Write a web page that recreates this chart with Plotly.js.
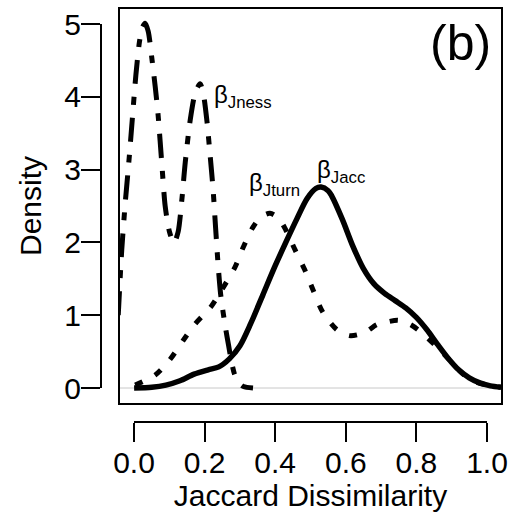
<!DOCTYPE html>
<html>
<head>
<meta charset="utf-8">
<script src="https://cdn.plot.ly/plotly-3.0.1.min.js"></script>
<style>html,body{margin:0;padding:0;background:#fff;}#chart{width:517px;height:525px;}</style>
</head>
<body>
<div id="chart"></div>
<script>
// βJacc (solid)
const jaccX = [0.00, 0.05, 0.09, 0.13, 0.17, 0.21, 0.24, 0.27, 0.30, 0.33, 0.365, 0.40, 0.43, 0.462, 0.49, 0.515, 0.53, 0.55, 0.56, 0.59, 0.62, 0.65, 0.68, 0.71, 0.74, 0.77, 0.80, 0.83, 0.86, 0.89, 0.92, 0.95, 0.98, 1.01, 1.04];
const jaccY = [0.00, 0.01, 0.04, 0.10, 0.19, 0.25, 0.29, 0.40, 0.58, 0.88, 1.28, 1.68, 2.00, 2.33, 2.60, 2.74, 2.76, 2.71, 2.64, 2.32, 1.95, 1.64, 1.43, 1.30, 1.20, 1.10, 0.97, 0.80, 0.60, 0.41, 0.25, 0.14, 0.07, 0.03, 0.01];
// βJturn (dashed)
const turnX = [0.003, 0.06, 0.10, 0.14, 0.173, 0.20, 0.22, 0.25, 0.286, 0.31, 0.337, 0.36, 0.385, 0.41, 0.43, 0.456, 0.484, 0.507, 0.535, 0.575, 0.61, 0.632, 0.66, 0.688, 0.72, 0.748, 0.78, 0.805, 0.853, 0.895, 0.93, 0.96, 1.00, 1.04];
const turnY = [0.04, 0.18, 0.38, 0.66, 0.88, 1.02, 1.13, 1.36, 1.66, 1.94, 2.21, 2.35, 2.40, 2.33, 2.17, 1.90, 1.62, 1.35, 1.04, 0.80, 0.72, 0.73, 0.78, 0.87, 0.91, 0.93, 0.88, 0.80, 0.59, 0.38, 0.20, 0.10, 0.04, 0.01];
// βJness (dash-dot)
const nessX = [-0.045, -0.035, -0.025, -0.015, -0.005, 0.005, 0.015, 0.023, 0.031, 0.04, 0.051, 0.06, 0.068, 0.079, 0.088, 0.10, 0.113, 0.125, 0.136, 0.145, 0.159, 0.173, 0.187, 0.197, 0.207, 0.215, 0.224, 0.231, 0.238, 0.245, 0.252, 0.26, 0.268, 0.276, 0.284, 0.295, 0.31, 0.337];
const nessY = [1.00, 1.90, 2.55, 3.10, 3.70, 4.30, 4.75, 4.95, 5.01, 4.90, 4.50, 4.13, 3.75, 3.05, 2.50, 2.15, 1.99, 2.15, 2.62, 3.10, 3.68, 4.05, 4.18, 4.02, 3.64, 3.22, 2.72, 2.20, 1.70, 1.30, 1.05, 0.80, 0.58, 0.36, 0.20, 0.08, 0.02, 0.00];

const xTickVals = [0, 0.2, 0.4, 0.6, 0.8, 1.0];
const xTickText = ['0.0', '0.2', '0.4', '0.6', '0.8', '1.0'];
const yTickVals = [0, 1, 2, 3, 4, 5];
const yTickText = ['0', '1', '2', '3', '4', '5'];
const seriesLabels = ['β<sub>Jness</sub>', 'β<sub>Jturn</sub>', 'β<sub>Jacc</sub>'];
const labelPos = [[0.222, 4.0], [0.32, 2.79], [0.513, 2.98]];

const FONT = 'Liberation Sans, Arial, Helvetica, sans-serif';

const traces = [
  {x: [-0.04, 1.04], y: [0, 0], mode: 'lines', line: {color: '#c8c8c8', width: 1}, hoverinfo: 'skip', showlegend: false},
  {x: nessX, y: nessY, mode: 'lines', line: {color: '#000', width: 5, shape: 'spline', smoothing: 0.7, dash: '24px,13px,8px,13px'}, showlegend: false},
  {x: turnX, y: turnY, mode: 'lines', line: {color: '#000', width: 5, shape: 'spline', smoothing: 0.8, dash: '8px,14px'}, showlegend: false},
  {x: jaccX, y: jaccY, mode: 'lines', line: {color: '#000', width: 5.5, shape: 'spline', smoothing: 0.8}, showlegend: false},
  {x: [0, 1], y: [0, 5], xaxis: 'x2', yaxis: 'y2', mode: 'markers', marker: {opacity: 0}, hoverinfo: 'skip', showlegend: false}
];

const W = 400, H = 413;
const layout = {
  width: 517, height: 525,
  margin: {l: 101, r: 16, t: 9, b: 103, pad: 0},
  paper_bgcolor: '#fff', plot_bgcolor: 'rgba(0,0,0,0)',
  font: {family: FONT, color: '#000', size: 30},
  showlegend: false,
  xaxis: {domain: [19 / W, 1], range: [-0.04, 1.04], showline: true, mirror: true, linecolor: '#000', linewidth: 2,
          showgrid: false, zeroline: false, showticklabels: false, ticks: '', fixedrange: true},
  yaxis: {domain: [19 / H, 1], range: [-0.206, 5.206], showline: true, mirror: true, linecolor: '#000', linewidth: 2,
          showgrid: false, zeroline: false, showticklabels: false, ticks: '', fixedrange: true},
  xaxis2: {domain: [33 / W, 386 / W], range: [0, 1], anchor: 'free', position: 0, showline: true, linecolor: '#000', linewidth: 2,
           ticks: 'outside', ticklen: 19, tickwidth: 2, tickcolor: '#000', tickvals: xTickVals, ticktext: xTickText,
           ticklabelstandoff: -5,
           tickfont: {size: 30, family: FONT, color: '#000'}, showgrid: false, zeroline: false,
           title: {text: 'Jaccard Dissimilarity', font: {size: 30, family: FONT, color: '#000'}, standoff: 4}},
  yaxis2: {domain: [34 / H, 398 / H], range: [0, 5], anchor: 'free', position: 0, showline: true, linecolor: '#000', linewidth: 2,
           ticks: 'outside', ticklen: 19, tickwidth: 2, tickcolor: '#000', tickvals: yTickVals, ticktext: yTickText,
           ticklabelstandoff: -6,
           tickfont: {size: 30, family: FONT, color: '#000'}, showgrid: false, zeroline: false,
           title: {text: 'Density', font: {size: 30, family: FONT, color: '#000'}, standoff: 13}},
  annotations: [
    {text: '(b)', xref: 'paper', yref: 'paper', x: 392 / W, y: (422 - 43) / H, xanchor: 'right', yanchor: 'middle',
     showarrow: false, font: {size: 50, family: FONT, color: '#000'}}
  ].concat(seriesLabels.map((t, i) => ({
    text: t, xref: 'x', yref: 'y', x: labelPos[i][0], y: labelPos[i][1], xanchor: 'left', yanchor: 'middle',
    showarrow: false, font: {size: 24, family: FONT, color: '#000'}
  })))
};

Plotly.newPlot('chart', traces, layout, {staticPlot: true, displayModeBar: false});
</script>
</body>
</html>
